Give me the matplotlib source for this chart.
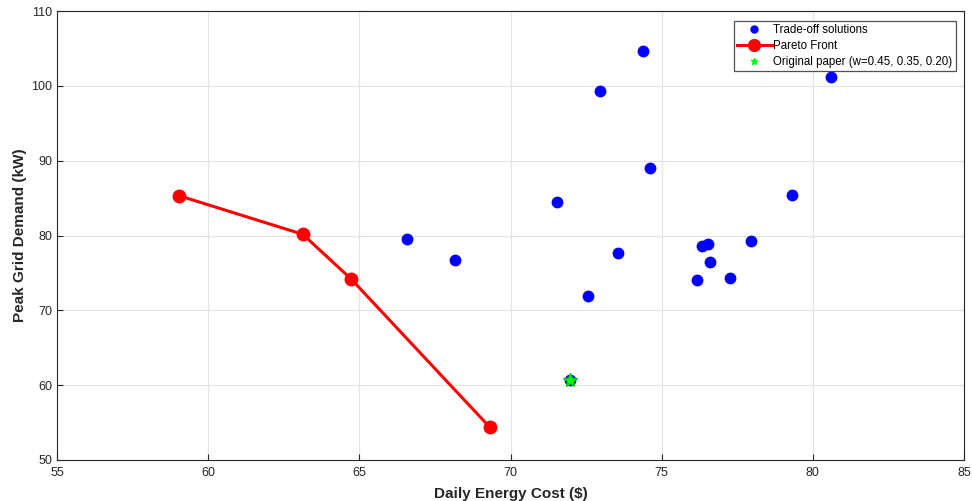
import matplotlib
matplotlib.use("Agg")
import matplotlib.pyplot as plt
from matplotlib.lines import Line2D

plt.rcParams['font.family'] = ['Liberation Sans', 'DejaVu Sans']

# trade-off solutions (cost $, peak kW)
trade_cost = [66.57, 68.18, 71.53, 72.56, 72.97, 73.54, 74.38, 74.60,
              76.17, 76.32, 76.54, 76.60, 77.25, 77.96, 79.30, 80.61, 71.96]
trade_peak = [79.57, 76.76, 84.48, 71.87, 99.28, 77.62, 104.7, 89.06,
              74.09, 78.60, 78.82, 76.49, 74.28, 79.30, 85.45, 101.23, 60.68]

# pareto front
pareto_cost = [59.05, 63.13, 64.73, 69.32]
pareto_peak = [85.3, 80.16, 74.18, 54.36]

# original paper weights
orig_cost = [71.96]
orig_peak = [60.68]

labels = ['Trade-off solutions', 'Pareto Front', 'Original paper (w=0.45, 0.35, 0.20)']
green = (0, 1, 0)

fig = plt.figure(figsize=(9.72, 5.01), dpi=100)
ax = fig.add_axes([57 / 972, 1 - 460 / 501, (964 - 57) / 972, (460 - 11) / 501])

ax.plot(trade_cost, trade_peak, 'o', color='blue', markersize=7.5, linestyle='none')
ax.plot(pareto_cost, pareto_peak, '-o', color='red', linewidth=2.2, markersize=9)
ax.plot(orig_cost, orig_peak, '*', color=green, markeredgecolor=(0, 0.8, 0),
        markersize=10, linestyle='none')

ax.set_xlim(55, 85)
ax.set_ylim(50, 110)
ax.set_xticks(range(55, 86, 5))
ax.set_yticks(range(50, 111, 10))
ax.grid(True, color='#e3e3e3', linewidth=0.8)
ax.set_axisbelow(True)
ax.tick_params(direction='in', length=4, labelsize=9, colors='#262626',
               top=False, right=False)
ax.tick_params(axis='x', pad=5)
for s in ax.spines.values():
    s.set_color('#262626')
    s.set_linewidth(0.8)

ax.set_xlabel('Daily Energy Cost ($)', fontsize=11, fontweight='bold',
              color='#262626', labelpad=6)
ax.set_ylabel('Peak Grid Demand (kW)', fontsize=11, fontweight='bold',
              color='#262626', labelpad=3)

# legend handles with small markers, like the reference
handles = [
    Line2D([], [], marker='o', color='blue', linestyle='none', markersize=5),
    Line2D([], [], marker='o', color='red', linewidth=2.2, markersize=8.5),
    Line2D([], [], marker='*', color=green, linestyle='none', markersize=5),
]
leg = ax.legend(handles, labels, loc='upper right', fontsize=8.3, frameon=True,
                fancybox=False, borderpad=0.3, labelspacing=0.35,
                handlelength=3.0, handletextpad=0.15,
                bbox_to_anchor=(956 / 972, 1 - 20.5 / 501),
                bbox_transform=fig.transFigure, borderaxespad=0)
leg.get_frame().set_edgecolor('#262626')
leg.get_frame().set_linewidth(0.9)

fig.savefig('out.png', dpi=100)
